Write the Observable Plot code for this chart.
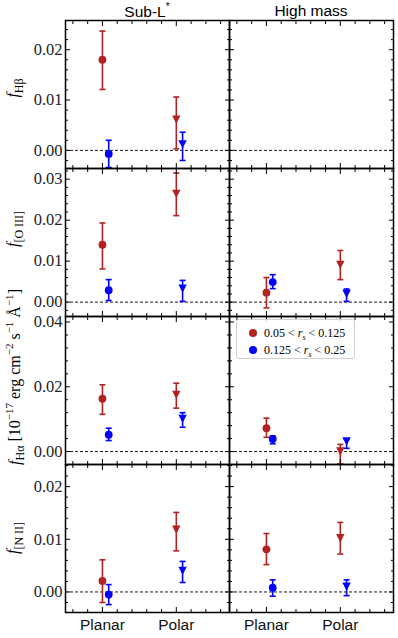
<!DOCTYPE html>
<html><head><meta charset="utf-8">
<script src="https://cdn.jsdelivr.net/npm/d3@7"></script>
<script src="https://cdn.jsdelivr.net/npm/@observablehq/plot@0.6"></script>
<style>
body{margin:0;background:#fff;color:#000;}
#fig{position:relative;width:398px;height:638px;overflow:hidden;background:#fff;}
.panel{position:absolute;}
svg.panel [aria-label="y-axis tick label"], svg.panel [aria-label="y-axis tick label"] text{font-family:"Liberation Serif","DejaVu Serif",serif !important;}
svg.panel [aria-label="x-axis tick label"], svg.panel [aria-label="x-axis tick label"] text{font-family:"Liberation Sans",sans-serif !important;}
.title{position:absolute;font-family:"Liberation Sans",sans-serif;font-size:15.5px;white-space:nowrap;transform:translateX(-50%);line-height:1;}
.title sup{font-size:10px;position:relative;top:-1px;}
.ylab{position:absolute;font-family:"Liberation Serif",serif;font-size:16px;white-space:nowrap;transform:translate(-50%,-50%) rotate(-90deg);line-height:1;}
.ylab sub{font-size:12px;font-style:normal;}
.ylab sup{font-size:11px;}
.legend{position:absolute;left:236px;top:319px;width:119px;height:40px;border:1px solid #d0d0d0;border-radius:3px;background:rgba(255,255,255,0.85);box-sizing:border-box;font-family:"Liberation Serif",serif;font-size:12px;}
.legend .row{position:absolute;left:0;white-space:nowrap;line-height:1;}
.legend .mk{position:absolute;width:8px;height:8px;border-radius:50%;}
.legend .tx{position:absolute;left:27px;}
.legend sub{font-size:8px;}
</style></head>
<body><div id="fig"></div>
<script>
const categories = ["Planar", "Polar"];
const groups = ["Sub-L*", "High mass"];
const bins = ["0.05 < r_s < 0.125", "0.125 < r_s < 0.25"];
const lines = ["Hβ", "[O III]", "Hα", "[N II]"];

// rows: [group, bin index, category, value, lower, upper]
const fHbeta = [
  ["Sub-L*", 0, "Planar", 0.0180, 0.0121, 0.0237],
  ["Sub-L*", 1, "Planar", -0.0007, -0.0034, 0.0020],
  ["Sub-L*", 0, "Polar", 0.0061, 0.0003, 0.0106],
  ["Sub-L*", 1, "Polar", 0.0012, -0.0020, 0.0036]
];
const fOIII = [
  ["Sub-L*", 0, "Planar", 0.0140, 0.0081, 0.0193],
  ["Sub-L*", 1, "Planar", 0.0029, 0.0004, 0.0055],
  ["Sub-L*", 0, "Polar", 0.0264, 0.0211, 0.0315],
  ["Sub-L*", 1, "Polar", 0.0033, 0.0002, 0.0053],
  ["High mass", 0, "Planar", 0.0023, -0.0014, 0.0060],
  ["High mass", 1, "Planar", 0.0049, 0.0033, 0.0067],
  ["High mass", 0, "Polar", 0.0091, 0.0055, 0.0126],
  ["High mass", 1, "Polar", 0.0020, 0.0002, 0.0032]
];
const fHalpha = [
  ["Sub-L*", 0, "Planar", 0.0163, 0.0115, 0.0206],
  ["Sub-L*", 1, "Planar", 0.0052, 0.0034, 0.0072],
  ["Sub-L*", 0, "Polar", 0.0175, 0.0134, 0.0211],
  ["Sub-L*", 1, "Polar", 0.0101, 0.0075, 0.0120],
  ["High mass", 0, "Planar", 0.0072, 0.0044, 0.0103],
  ["High mass", 1, "Planar", 0.0039, 0.0024, 0.0048],
  ["High mass", 0, "Polar", 0.0000, -0.0038, 0.0022],
  ["High mass", 1, "Polar", 0.0031, 0.0010, 0.0038]
];
const fNII = [
  ["Sub-L*", 0, "Planar", 0.0021, -0.0020, 0.0061],
  ["Sub-L*", 1, "Planar", -0.0005, -0.0024, 0.0014],
  ["Sub-L*", 0, "Polar", 0.0118, 0.0078, 0.0151],
  ["Sub-L*", 1, "Polar", 0.0040, 0.0018, 0.0058],
  ["High mass", 0, "Planar", 0.0081, 0.0052, 0.0111],
  ["High mass", 1, "Planar", 0.0008, -0.0008, 0.0023],
  ["High mass", 0, "Polar", 0.0102, 0.0072, 0.0132],
  ["High mass", 1, "Polar", 0.0010, -0.0007, 0.0023]
];
const yTicksHbeta = [0.00, 0.01, 0.02];
const yTicksOIII = [0.00, 0.01, 0.02, 0.03];
const yTicksHalpha = [0.00, 0.02, 0.04];
const yTicksNII = [0.00, 0.01, 0.02];

// ---- styling / layout (not data) ----
const binColors = ["#b22222", "#0000ff"];
const OFFSET = 0.085;
const SERIF = "'Liberation Serif', 'DejaVu Serif', serif";
const SANS = "'Liberation Sans', sans-serif";
const rowSpecs = [
  {rows: fHbeta, domain: [-0.0036, 0.0258], majors: yTicksHbeta, minor: 0.002, top: 20},
  {rows: fOIII, domain: [-0.0035, 0.0326], majors: yTicksOIII, minor: 0.002, top: 168},
  {rows: fHalpha, domain: [-0.004, 0.0417], majors: yTicksHalpha, minor: 0.004, top: 316},
  {rows: fNII, domain: [-0.0039, 0.0242], majors: yTicksNII, minor: 0.002, top: 464}
];
const capSymbol = {draw(ctx, size) { const w = Math.sqrt(size / Math.PI); ctx.moveTo(-w, 0); ctx.lineTo(w, 0); }};
const triDown = {draw(ctx, size) { const r = Math.sqrt(size / Math.PI); ctx.moveTo(-r, -r); ctx.lineTo(r, -r); ctx.lineTo(0, r); ctx.closePath(); }};

const fig = document.getElementById("fig");
const xMajor = [0, 1];
const xMinor = d3.range(-2, 9).map(k => k * 0.2).filter(v => Math.abs(v) > 1e-9 && Math.abs(v - 1) > 1e-9);

function minorTicks(domain, step, majors) {
  const out = [];
  for (let k = Math.ceil(domain[0] / step - 1e-9); k * step <= domain[1] + 1e-12; k++) {
    const v = +(k * step).toFixed(6);
    if (!majors.some(m => Math.abs(m - v) < 1e-9)) out.push(v);
  }
  return out;
}

function panel(spec, gi, isBottom) {
  const group = groups[gi];
  const isLeft = gi === 0;
  const data = spec.rows.filter(d => d[0] === group).map(d => ({
    bin: d[1], cat: d[2],
    x: categories.indexOf(d[2]) + (d[1] === 1 ? OFFSET : 0),
    y: d[3], lo: d[4], hi: d[5], color: binColors[d[1]]
  }));
  const yMinor = minorTicks(spec.domain, spec.minor, spec.majors);
  const circles = data.filter(d => d.cat === "Planar");
  const tris = data.filter(d => d.cat === "Polar");
  const tk = {stroke: "black", strokeWidth: 1, fill: "none", label: null};
  const marks = [
    Plot.ruleY([0], {stroke: "black", strokeWidth: 0.9, strokeDasharray: "3,2"}),
    Plot.ruleX(data, {x: "x", y1: "lo", y2: "hi", stroke: "color", strokeWidth: 1.6, clip: true}),
    Plot.dot(data, {x: "x", y: "lo", symbol: capSymbol, r: 3, stroke: "color", strokeWidth: 1.6, fill: "none", clip: true}),
    Plot.dot(data, {x: "x", y: "hi", symbol: capSymbol, r: 3, stroke: "color", strokeWidth: 1.6, fill: "none", clip: true}),
    Plot.dot(circles, {x: "x", y: "y", r: 3.9, fill: "color", stroke: "none"}),
    Plot.dot(tris, {x: "x", y: "y", symbol: triDown, r: 4.2, fill: "color", stroke: "none"}),
    // inward ticks
    Plot.axisY(spec.majors, {...tk, anchor: "left", tickSize: 5, dx: 5}),
    Plot.axisY(yMinor, {...tk, anchor: "left", tickSize: 3, dx: 3}),
    Plot.axisY(spec.majors, {...tk, anchor: "right", tickSize: 5, dx: -5}),
    Plot.axisY(yMinor, {...tk, anchor: "right", tickSize: 3, dx: -3}),
    Plot.axisX(xMajor, {...tk, anchor: "top", tickSize: 5, dy: 5}),
    Plot.axisX(xMinor, {...tk, anchor: "top", tickSize: 3, dy: 3}),
    Plot.axisX(xMajor, {...tk, anchor: "bottom", tickSize: 5, dy: -5}),
    Plot.axisX(xMinor, {...tk, anchor: "bottom", tickSize: 3, dy: -3}),
    Plot.frame({stroke: "black", strokeWidth: 1.5})
  ];
  if (isLeft) {
    marks.push(Plot.axisY(spec.majors, {anchor: "left", tickSize: 0, tickPadding: 3, tickFormat: d3.format(".2f"), label: null, fill: "#222", fontSize: 16.5, fontFamily: SERIF, fontVariant: "normal"}));
  }
  if (isBottom) {
    marks.push(Plot.axisX(xMajor, {anchor: "bottom", tickSize: 0, tickPadding: 6, tickFormat: i => categories[i], label: null, fill: "#111", fontSize: 15.5, fontFamily: SANS}));
  }
  const chart = Plot.plot({
    width: isLeft ? 229 : 169,
    height: 148 + (isBottom ? 26 : 0),
    marginLeft: isLeft ? 65 : 0,
    marginRight: isLeft ? 0 : 5,
    marginTop: 0,
    marginBottom: isBottom ? 26 : 0,
    x: {domain: [-0.5, 1.72]},
    y: {domain: spec.domain},
    color: {type: "identity"},
    style: {overflow: "visible", background: "transparent", fontFamily: SERIF, fontSize: "16px", color: "black"},
    marks
  });
  chart.classList.add("panel");
  chart.style.left = (isLeft ? 0 : 229) + "px";
  chart.style.top = spec.top + "px";
  fig.appendChild(chart);
}

rowSpecs.forEach((spec, ri) => {
  panel(spec, 0, ri === rowSpecs.length - 1);
  panel(spec, 1, ri === rowSpecs.length - 1);
});

function addDiv(cls, html, left, top) {
  const d = document.createElement("div");
  d.className = cls;
  d.innerHTML = html;
  d.style.left = left + "px";
  d.style.top = top + "px";
  fig.appendChild(d);
  return d;
}
// titles
addDiv("title", "Sub-L<sup>*</sup>", 147, 3);
addDiv("title", groups[1], 311, 3);
// y labels
addDiv("ylab", "<i>f</i><sub>" + lines[0] + "</sub>", 15, 88);
addDiv("ylab", "<i>f</i><sub>" + lines[1] + "</sub>", 15, 229);
addDiv("ylab", "<i>f</i><sub>" + lines[2] + "</sub> [10<sup>−17</sup> erg cm<sup>−2</sup> s<sup>−1</sup> Å<sup>−1</sup>]", 15, 377);
addDiv("ylab", "<i>f</i><sub>" + lines[3] + "</sub>", 15, 538);
// legend
const leg = addDiv("legend", "", 236, 319);
bins.forEach((b, i) => {
  const [lo, , hi] = b.split(" < ");
  const row = document.createElement("div");
  row.className = "row";
  row.style.top = (i === 0 ? 7 : 24) + "px";
  row.innerHTML = `<span class="mk" style="left:12px;top:2px;background:${binColors[i]}"></span><span class="tx">${lo} &lt; <i>r</i><sub><i>s</i></sub> &lt; ${hi}</span>`;
  leg.appendChild(row);
});
</script>
</body></html>
